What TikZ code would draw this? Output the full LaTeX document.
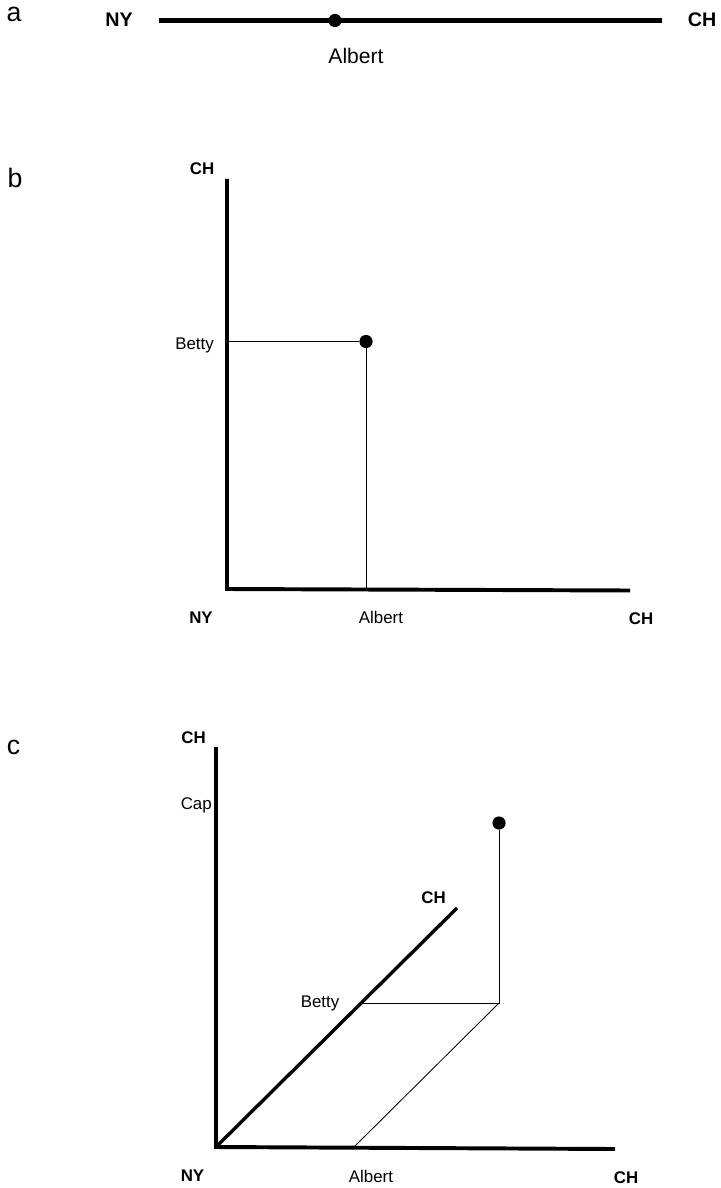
\documentclass[tikz,border=0pt]{standalone}
\usepackage{fontspec}
\setmainfont{Liberation Sans}
\usetikzlibrary{positioning, calc}

\begin{document}
\begin{tikzpicture}[
        x=0.025cm, y=-0.025cm,
        eje/.style={line width=2.8pt, line join=miter},
        diagonal/.style={line width=2.4pt},
        guia/.style={line width=0.6pt},
        punto/.style={
            circle,
            fill=black,
            inner sep=0pt,
            minimum size=0.33cm
        },
        panel/.style={font=\fontsize{19}{22}\selectfont, inner sep=0pt},
        extremo/.style={font=\bfseries\fontsize{12}{14}\selectfont, inner sep=0pt},
        nombre/.style={font=\fontsize{12}{14}\selectfont, inner sep=0pt}
    ]

        \useasboundingbox (0,0) rectangle (721,1188);

        % (a) una sola dimension
        \node[panel] (letraA) at (14,14) {a};
        \coordinate (nyLinea) at (159,20.5);
        \coordinate (chLinea) at (662,20.5);
        \draw[line width=3.4pt] (nyLinea) -- (chLinea);
        \node[punto] (puntoA) at (335,20.5) {};
        \node[extremo, font=\bfseries\fontsize{14}{16}\selectfont] (nyA) at (119,20) {NY};
        \node[extremo, font=\bfseries\fontsize{14}{16}\selectfont] (chA) at (702,20) {CH};
        \node[nombre, font=\fontsize{15}{17}\selectfont] (albertA) at (356,56) {Albert};

        % (b) dos dimensiones
        \node[panel] (letraB) at (15,177.5) {b};
        \coordinate (origenB) at (227,589);
        \coordinate (ejeYB) at (227,179);
        \coordinate (ejeXB) at (630,590.5);
        \draw[eje] (ejeYB) -- (origenB) -- (ejeXB);
        \node[punto] (puntoB) at (366,341.5) {};
        \draw[guia] (puntoB) -- (puntoB -| origenB);
        \draw[guia] (puntoB) -- (puntoB |- origenB);
        \node[extremo] (chYB) at (202,169) {CH};
        \node[nombre, anchor=base] (bettyB) at (194.5,349) {Betty};
        \node[extremo] (nyB) at (201,618) {NY};
        \node[nombre] (albertB) at (381,617) {Albert};
        \node[extremo] (chXB) at (641,619) {CH};

        % (c) con eje de capital
        \node[panel] (letraC) at (13.5,747) {c};
        \coordinate (origenC) at (216,1147);
        \coordinate (ejeYC) at (216,747);
        \coordinate (ejeXC) at (615,1149);
        \coordinate (ejeDC) at (457,908);
        \draw[eje] (ejeYC) -- (origenC) -- (ejeXC);
        \draw[diagonal] (origenC) -- (ejeDC);
        \node[punto] (puntoC) at (499,823) {};
        \coordinate (esquinaC) at (499,1003);
        \coordinate (pieBettyC) at (361,1003);
        \coordinate (pieAlbertC) at (354,1147);
        \draw[guia] (puntoC) -- (esquinaC) -- (pieBettyC);
        \draw[guia] (esquinaC) -- (pieAlbertC);
        \node[extremo] (chYC) at (193.5,737.5) {CH};
        \node[extremo] (chDC) at (433.5,897.5) {CH};
        \node[nombre, anchor=east] (capC) at (212,805) {Cap};
        \node[nombre, anchor=base] (bettyC) at (320,1007) {Betty};
        \node[extremo] (nyC) at (192.5,1176) {NY};
        \node[nombre] (albertC) at (371,1176) {Albert};
        \node[extremo] (chXC) at (626,1178) {CH};

    \end{tikzpicture}
\end{document}
